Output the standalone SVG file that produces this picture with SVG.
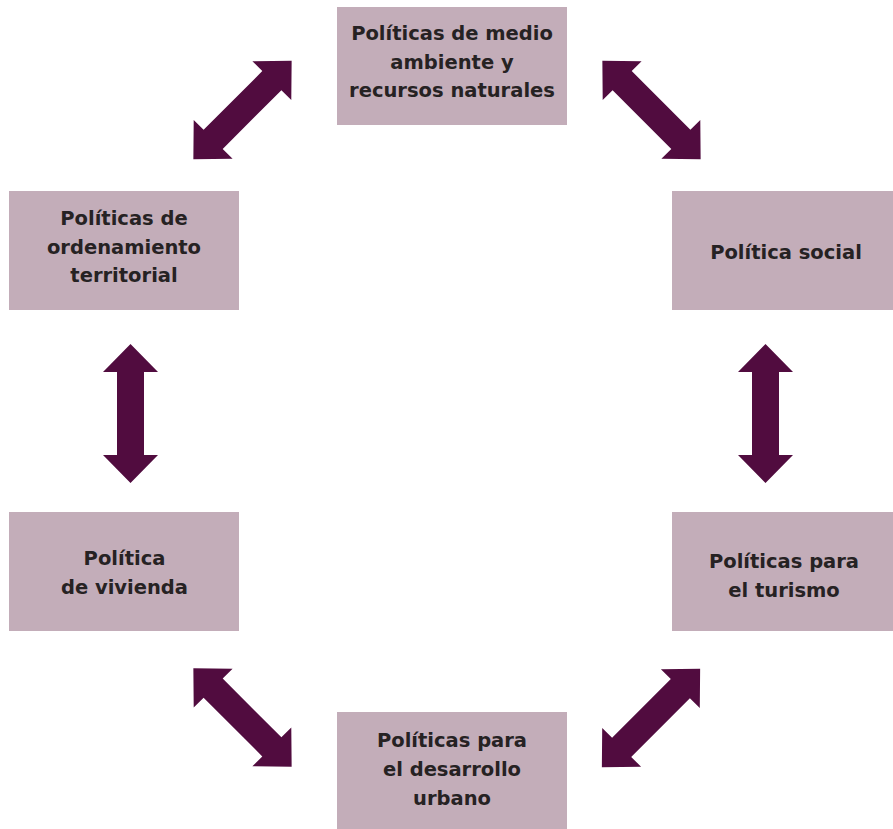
<svg xmlns="http://www.w3.org/2000/svg" xmlns:xlink="http://www.w3.org/1999/xlink" width="893" height="829" viewBox="0 0 893 829">
<style>
.box{fill:#c3adb9}
.lbl{font-family:"DejaVu Sans","Verdana",sans-serif;font-weight:bold;font-size:19.5px;fill:#262223;text-anchor:middle}
.arr{fill:#510c3f}
</style>
<defs>
<polygon id="dblarrow" points="0,-69.5 27.5,-41.5 13.5,-41.5 13.5,41.5 27.5,41.5 0,69.5 -27.5,41.5 -13.5,41.5 -13.5,-41.5 -27.5,-41.5"/>
</defs>
<rect width="893" height="829" fill="#ffffff"/>
<g id="connectors" class="arr">
<use xlink:href="#dblarrow" transform="translate(242.5,110) rotate(45)"/>
<use xlink:href="#dblarrow" transform="translate(651.5,110) rotate(-45)"/>
<use xlink:href="#dblarrow" transform="translate(130.5,413.5)"/>
<use xlink:href="#dblarrow" transform="translate(765.5,413.5)"/>
<use xlink:href="#dblarrow" transform="translate(242.5,717.5) rotate(-45)"/>
<use xlink:href="#dblarrow" transform="translate(651,718) rotate(45)"/>
</g>
<g id="node-medio-ambiente">
<rect class="box" x="337" y="7" width="230" height="118"/>
<text class="lbl" x="452" y="40">Políticas de medio</text>
<text class="lbl" x="452" y="69">ambiente y</text>
<text class="lbl" x="452" y="97">recursos naturales</text>
</g>
<g id="node-ordenamiento">
<rect class="box" x="9" y="191" width="230" height="119"/>
<text class="lbl" x="124" y="225">Políticas de</text>
<text class="lbl" x="124" y="254">ordenamiento</text>
<text class="lbl" x="124" y="282">territorial</text>
</g>
<g id="node-social">
<rect class="box" x="672" y="191" width="230" height="119"/>
<text class="lbl" x="786" y="259">Política social</text>
</g>
<g id="node-vivienda">
<rect class="box" x="9" y="512" width="230" height="119"/>
<text class="lbl" x="124.5" y="565">Política</text>
<text class="lbl" x="124.5" y="594">de vivienda</text>
</g>
<g id="node-turismo">
<rect class="box" x="672" y="512" width="230" height="119"/>
<text class="lbl" x="784" y="568">Políticas para</text>
<text class="lbl" x="784" y="597">el turismo</text>
</g>
<g id="node-desarrollo-urbano">
<rect class="box" x="337" y="712" width="230" height="118"/>
<text class="lbl" x="452" y="747">Políticas para</text>
<text class="lbl" x="452" y="776">el desarrollo</text>
<text class="lbl" x="452" y="805">urbano</text>
</g>
</svg>
